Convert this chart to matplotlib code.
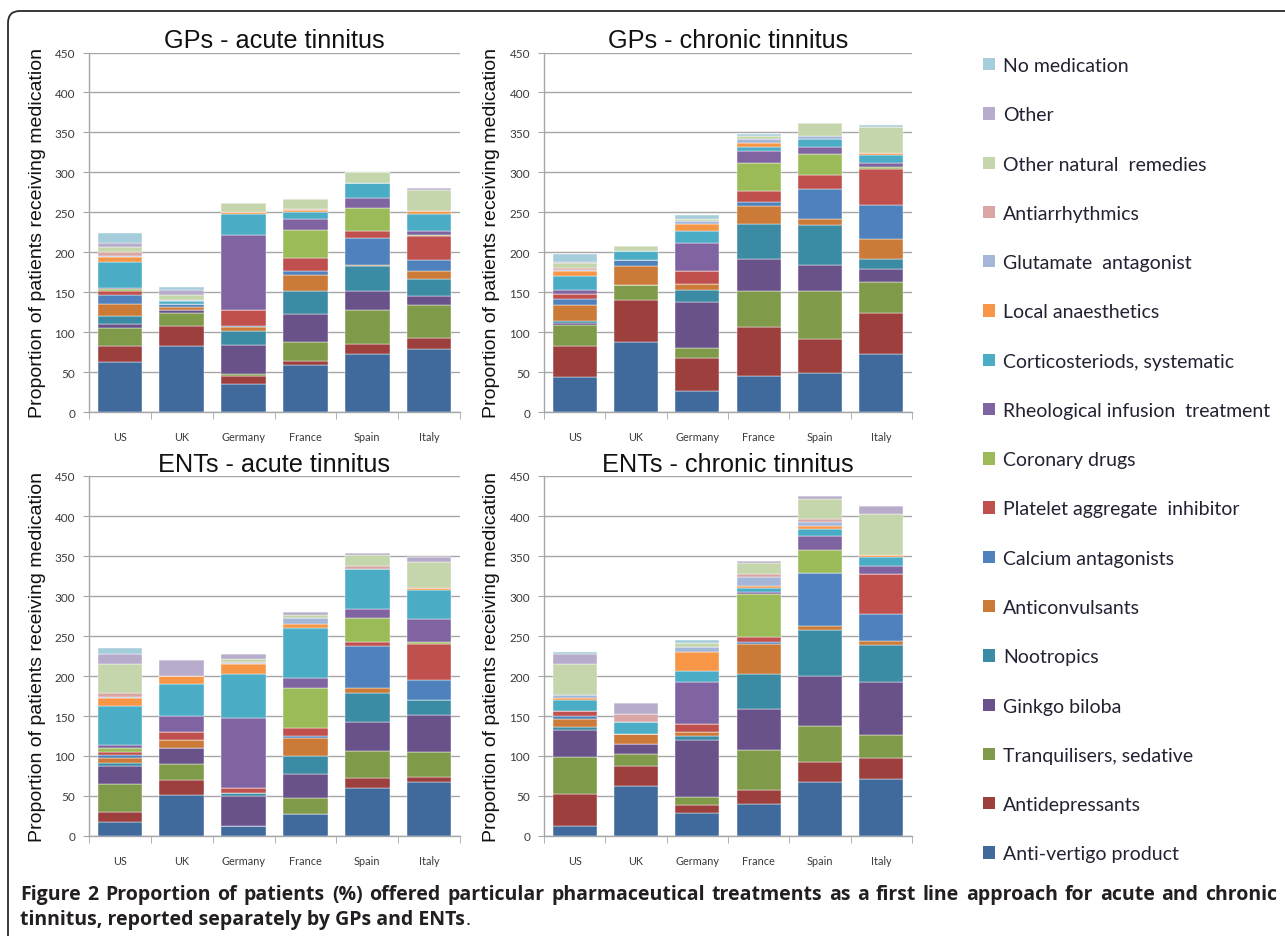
import numpy as np
import matplotlib
matplotlib.use("Agg")
import matplotlib.pyplot as plt
from matplotlib.patches import FancyBboxPatch, Patch
from matplotlib.transforms import IdentityTransform

W, H = 1285, 937

countries = ["US", "UK", "Germany", "France", "Spain", "Italy"]

treatments = [
    "Anti-vertigo product", "Antidepressants", "Tranquilisers, sedative",
    "Ginkgo biloba", "Nootropics", "Anticonvulsants", "Calcium antagonists",
    "Platelet aggregate  inhibitor", "Coronary drugs",
    "Rheological infusion  treatment", "Corticosteriods, systematic",
    "Local anaesthetics", "Glutamate  antagonist", "Antiarrhythmics",
    "Other natural  remedies", "Other", "No medication",
]

colors = [
    "#40699C", "#9C3F3D", "#7F9A48", "#69518A", "#3A8BA3", "#CC7A37",
    "#4F81BD", "#C0504D", "#9BBB59", "#8064A2", "#4BACC6", "#F79646",
    "#A5B7D9", "#D9A6A5", "#C5D6AC", "#B7ACCB", "#A5CDDB",
]

# rows: countries (US, UK, Germany, France, Spain, Italy); columns: treatments in order above
gps_acute = [
    [62, 20, 23, 5, 10, 15, 12, 5, 2, 1, 33, 6, 1, 5, 7, 5, 12],
    [83, 25, 16, 4, 0, 4, 3, 0, 0, 0, 4, 0, 1, 0, 7, 6, 4],
    [35, 10, 3, 36, 17, 6, 1, 20, 0, 93, 27, 2, 0, 0, 12, 0, 0],
    [59, 5, 23, 36, 29, 20, 5, 16, 35, 14, 8, 3, 0, 1, 13, 0, 0],
    [73, 12, 43, 23, 32, 1, 34, 9, 28, 13, 19, 0, 0, 0, 13, 0, 0],
    [79, 14, 41, 11, 22, 10, 13, 30, 2, 4, 22, 4, 0, 0, 26, 3, 0],
]
gps_chronic = [
    [44, 38, 27, 2, 3, 20, 8, 6, 0, 5, 17, 6, 2, 2, 7, 1, 10],
    [87, 53, 19, 0, 0, 24, 7, 0, 0, 0, 11, 0, 0, 0, 7, 0, 0],
    [26, 42, 12, 58, 15, 7, 0, 16, 0, 36, 14, 9, 4, 0, 3, 0, 4],
    [45, 62, 44, 41, 43, 23, 5, 14, 35, 15, 5, 5, 5, 0, 4, 0, 2],
    [49, 43, 60, 32, 50, 7, 38, 18, 26, 9, 10, 0, 3, 0, 17, 0, 0],
    [73, 51, 39, 16, 13, 25, 42, 45, 3, 5, 10, 2, 0, 0, 33, 0, 2],
]
ents_acute = [
    [17, 13, 35, 23, 3, 6, 4, 4, 5, 4, 49, 9, 2, 5, 36, 13, 7],
    [51, 19, 20, 20, 0, 10, 0, 10, 0, 20, 40, 10, 0, 0, 0, 20, 0],
    [13, 0, 0, 37, 4, 0, 0, 6, 0, 88, 55, 12, 1, 1, 4, 6, 0],
    [28, 0, 19, 30, 23, 22, 3, 10, 50, 12, 63, 5, 7, 0, 4, 4, 0],
    [60, 12, 34, 37, 36, 6, 53, 4, 30, 12, 50, 0, 0, 3, 14, 3, 0],
    [67, 7, 31, 46, 19, 0, 25, 45, 2, 29, 37, 2, 0, 0, 33, 6, 0],
]
ents_chronic = [
    [13, 40, 46, 34, 3, 10, 4, 6, 0, 0, 14, 3, 3, 0, 39, 13, 2],
    [63, 24, 15, 13, 0, 13, 0, 0, 0, 0, 15, 0, 0, 10, 0, 13, 0],
    [29, 10, 10, 71, 5, 5, 0, 10, 0, 52, 14, 24, 6, 0, 5, 0, 4],
    [40, 17, 50, 52, 43, 38, 3, 6, 53, 3, 5, 3, 11, 3, 14, 3, 0],
    [68, 24, 46, 62, 58, 5, 66, 0, 29, 17, 9, 3, 5, 4, 25, 4, 0],
    [71, 26, 29, 67, 46, 5, 33, 51, 0, 10, 11, 2, 0, 0, 52, 10, 0],
]

titles = ["GPs - acute tinnitus", "GPs - chronic tinnitus",
          "ENTs - acute tinnitus", "ENTs - chronic tinnitus"]
panels = [gps_acute, gps_chronic, ents_acute, ents_chronic]
ylabel = "Proportion of patients receiving medication"

fig = plt.figure(figsize=(W / 100, H / 100), dpi=100)

# axes rectangles in pixels: left, top, right, bottom
rects = [(89, 53.5, 460, 413), (544, 53.5, 912, 413),
         (89, 477, 460, 837), (544, 477, 912, 837)]
label_x = [46, 500, 46, 500]
title_pad = [2, 2, 3, 3]

grid_col = "#A6A6A6"
tick_col = "#3A3A3A"
for k, (data, title, (l, t, r, b)) in enumerate(zip(panels, titles, rects)):
    ax = fig.add_axes([l / W, 1 - b / H, (r - l) / W, (b - t) / H])
    arr = np.array(data, dtype=float).T  # series x countries
    x = np.arange(len(countries))
    bottom = np.zeros(len(countries))
    for i, series in enumerate(arr):
        ax.bar(x, series, 0.72, bottom=bottom, color=colors[i],
               edgecolor="white", linewidth=0.3, label=treatments[i], zorder=3)
        bottom += series
    ax.set_xlim(-0.5, 5.5)
    ax.set_ylim(0, 450)
    ax.set_yticks(np.arange(0, 451, 50))
    ax.yaxis.grid(True, color=grid_col, linewidth=1.0, zorder=0)
    ax.set_axisbelow(True)
    for s in ["top", "right"]:
        ax.spines[s].set_visible(False)
    for s in ["left", "bottom"]:
        ax.spines[s].set_color(grid_col)
        ax.spines[s].set_linewidth(1.0)
    ax.set_xticks(x)
    ax.set_xticklabels(countries)
    ax.set_xticks(np.arange(-0.5, 6.0, 1.0), minor=True)
    ax.tick_params(axis="x", which="major", length=0, pad=14,
                   labelsize=7.8, labelcolor=tick_col)
    ax.tick_params(axis="x", which="minor", length=5, color=grid_col)
    ax.tick_params(axis="y", length=4, color=grid_col, labelsize=8.5,
                   labelcolor=tick_col, pad=6)
    for lab in ax.get_xticklabels() + ax.get_yticklabels():
        lab.set_family(["Lato", "DejaVu Sans"])
    ax.set_title(title, fontsize=18.2, family=["Liberation Sans"],
                 pad=title_pad[k], color="#111111")
    ax.set_ylabel(ylabel, fontsize=14, family=["Liberation Sans"],
                  color="#111111")
    ax.yaxis.set_label_coords((label_x[k] - l) / (r - l), 0.5)

# legend (top entry = last series)
leg_handles = [Patch(facecolor=colors[i]) for i in range(len(treatments))][::-1]
leg_labels = treatments[::-1]
fig.legend(leg_handles, leg_labels, loc="upper left",
           bbox_to_anchor=(983 / W, 1 - 58 / H), frameon=False,
           prop={"family": ["Lato", "DejaVu Sans"], "size": 14},
           handlelength=0.6, handleheight=0.6, handletextpad=0.45,
           labelspacing=1.66, borderpad=0, borderaxespad=0,
           labelcolor="#222233")

# rounded frame
frame = FancyBboxPatch((8, -30), 1320, H - 12 + 30,
                       boxstyle="round,pad=0,rounding_size=12",
                       transform=IdentityTransform(), fill=False,
                       linewidth=1.3, edgecolor="#2a2a2a")
fig.add_artist(frame)

# caption
renderer = fig.canvas.get_renderer()
cap_font = dict(family=["Open Sans", "DejaVu Sans"], size=14,
                color="#231F20")
line1 = ("Figure 2 Proportion of patients (%) offered particular pharmaceutical "
         "treatments as a first line approach for acute and chronic").split()
x0, x1 = 20, 1277
texts = []
widths = []
for w in line1:
    t = fig.text(0, 0, w, weight="bold", va="baseline", **cap_font)
    texts.append(t)
    widths.append(t.get_window_extent(renderer).width)
gap = (x1 - x0 - sum(widths)) / (len(line1) - 1)
xc = x0
for t, wd in zip(texts, widths):
    t.set_position((xc / W, 1 - 900 / H))
    xc += wd + gap

t2 = fig.text(x0 / W, 1 - 925 / H, "tinnitus, reported separately by GPs and ENTs",
              weight="bold", va="baseline", **cap_font)
w2 = t2.get_window_extent(renderer).width
fig.text((x0 + w2 + 0.5) / W, 1 - 925 / H, ".", weight="normal",
         va="baseline", **cap_font)

fig.savefig("out.png", dpi=100)
